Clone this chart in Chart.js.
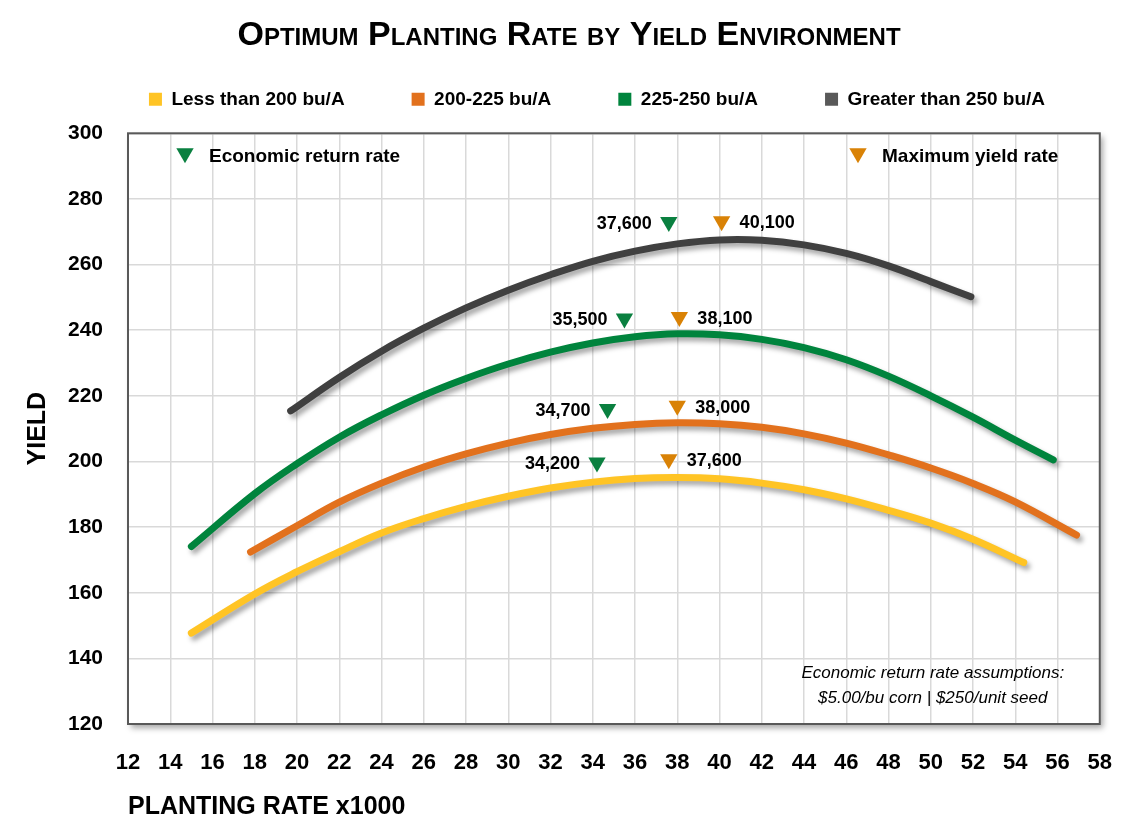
<!DOCTYPE html>
<html>
<head>
<meta charset="utf-8">
<title>Optimum Planting Rate by Yield Environment</title>
<script src="https://cdn.jsdelivr.net/npm/chart.js@4.4.1/dist/chart.umd.min.js"></script>
<style>
  html, body { margin: 0; padding: 0; background: #fff; }
</style>
</head>
<body>
<canvas id="chart" width="1138" height="838"></canvas>
<script>
const FONT = "'Liberation Sans', Arial, sans-serif";

/* ─── DATA ─── */
const seriesNames  = ['Less than 200 bu/A', '200-225 bu/A', '225-250 bu/A', 'Greater than 250 bu/A'];
const lineColors   = ['#ffc425', '#e2711d', '#00843d', '#404040'];
const legendColors = ['#ffc425', '#e2711d', '#00843d', '#595959'];

// planting rate (x1000) and yield (bu/A)
const rateLess200  = [15, 18, 20, 22, 24, 26, 28, 30, 32, 34, 36, 38, 40, 42, 44, 46, 48, 50, 52, 54.4];
const yieldLess200 = [147.7, 159.6, 166.4, 172.5, 178.2, 182.6, 186.3, 189.4, 191.9, 193.7, 194.8, 195.1, 194.7, 193.4, 191.4, 188.6, 185.1, 181.2, 176.3, 169.2];

const rate200to225  = [17.8, 20, 22, 24, 26, 28, 30, 32, 34, 36, 38, 40, 42, 44, 46, 48, 50, 52, 54, 56.9];
const yield200to225 = [172.4, 180.4, 187.6, 193.4, 198.3, 202.3, 205.6, 208.2, 210.1, 211.3, 211.8, 211.5, 210.4, 208.4, 205.6, 202, 198, 193.3, 187.7, 177.6];

const rate225to250  = [15, 18, 20, 22, 24, 26, 28, 30, 32, 34, 36, 38, 40, 42, 44, 46, 48, 50, 52, 54, 55.8];
const yield225to250 = [174.1, 190.2, 199.3, 207.4, 214.2, 220.2, 225.3, 229.7, 233.3, 236.1, 238, 238.9, 238.6, 237.2, 234.7, 231, 226, 220, 213.5, 206.5, 200.5];

const rateOver250  = [19.7, 22, 24, 26, 28, 30, 32, 34, 36, 38, 40, 42, 44, 46, 48, 50, 51.9];
const yieldOver250 = [215.4, 225.6, 233.6, 240.6, 246.8, 252.2, 256.9, 261, 264.1, 266.3, 267.5, 267.4, 266, 263.4, 259.6, 254.8, 250.2];

// economic return rate / maximum yield rate markers
const econRate   = [34.2, 34.7, 35.5, 37.6];
const econYield  = [199.7, 216, 243.6, 273];
const econLabels = ['34,200', '34,700', '35,500', '37,600'];
const maxRate    = [37.6, 38.0, 38.1, 40.1];
const maxYield   = [200.7, 217, 244, 273.2];
const maxLabels  = ['37,600', '38,000', '38,100', '40,100'];

const econColor = '#0a8040';
const maxColor  = '#d98206';

const xMin = 12, xMax = 58, xStep = 2;
const yMin = 120, yMax = 300, yStep = 20;

const curves = [
  [rateLess200, yieldLess200],
  [rate200to225, yield200to225],
  [rate225to250, yield225to250],
  [rateOver250, yieldOver250]
];

function toPoints(xs, ys) {
  return xs.map((x, i) => ({ x, y: ys[i] }));
}

/* ─── PLUGINS ─── */
function triangleDown(ctx, x, y, r) {
  const s = r * Math.sin(Math.PI / 3);
  ctx.beginPath();
  ctx.moveTo(x, y + r);
  ctx.lineTo(x - s, y - r / 2);
  ctx.lineTo(x + s, y - r / 2);
  ctx.closePath();
  ctx.fill();
}

// white plot area with a soft outer shadow, then a dark frame
const plotFrame = {
  id: 'plotFrame',
  beforeDraw(chart) {
    const { ctx, chartArea: a } = chart;
    ctx.save();
    ctx.shadowColor = 'rgba(0,0,0,0.35)';
    ctx.shadowBlur = 6;
    ctx.shadowOffsetX = 3;
    ctx.shadowOffsetY = 4;
    ctx.fillStyle = '#fff';
    ctx.fillRect(a.left, a.top, a.width, a.height);
    ctx.restore();
  },
  beforeDatasetsDraw(chart) {
    const { ctx, chartArea: a } = chart;
    ctx.save();
    ctx.strokeStyle = '#595959';
    ctx.lineWidth = 2;
    ctx.strokeRect(a.left, a.top, a.width, a.height);
    ctx.restore();
  }
};

// drop shadow under the yield curves
const lineShadow = {
  id: 'lineShadow',
  beforeDatasetDraw(chart, args) {
    if (args.index > 3) return;
    const ctx = chart.ctx;
    ctx.save();
    ctx.shadowColor = 'rgba(0,0,0,0.35)';
    ctx.shadowBlur = 5;
    ctx.shadowOffsetX = 3;
    ctx.shadowOffsetY = 4;
  },
  afterDatasetDraw(chart, args) {
    if (args.index > 3) return;
    chart.ctx.restore();
  }
};

// rate labels next to markers, marker key and the assumptions note
const annotations = {
  id: 'annotations',
  afterDatasetsDraw(chart) {
    const { ctx, chartArea: a } = chart;
    ctx.save();
    ctx.fillStyle = '#000';
    ctx.textBaseline = 'middle';
    ctx.font = 'bold 18px ' + FONT;

    chart.getDatasetMeta(4).data.forEach((pt, i) => {
      ctx.textAlign = 'right';
      ctx.fillText(econLabels[i], pt.x - 17, pt.y + 2);
    });
    chart.getDatasetMeta(5).data.forEach((pt, i) => {
      ctx.textAlign = 'left';
      ctx.fillText(maxLabels[i], pt.x + 18, pt.y + 2);
    });

    // marker key
    ctx.font = 'bold 19px ' + FONT;
    ctx.textAlign = 'left';
    ctx.fillStyle = econColor;
    triangleDown(ctx, a.left + 57, a.top + 20, 10);
    ctx.fillStyle = '#000';
    ctx.fillText('Economic return rate', a.left + 81, a.top + 23);
    ctx.fillStyle = maxColor;
    triangleDown(ctx, a.left + 730, a.top + 20, 10);
    ctx.fillStyle = '#000';
    ctx.fillText('Maximum yield rate', a.left + 754, a.top + 23);

    // assumptions
    ctx.font = 'italic 17px ' + FONT;
    ctx.textAlign = 'center';
    ctx.fillText('Economic return rate assumptions:', a.right - 167, a.bottom - 51);
    ctx.fillText('$5.00/bu corn | $250/unit seed', a.right - 167, a.bottom - 26);
    ctx.restore();
  }
};

/* ─── BUILD CHART ─── */
const lineSets = curves.map((c, i) => ({
  type: 'line',
  label: seriesNames[i],
  data: toPoints(c[0], c[1]),
  borderColor: lineColors[i],
  backgroundColor: legendColors[i],
  borderWidth: 7,
  borderCapStyle: 'round',
  borderJoinStyle: 'round',
  pointRadius: 0,
  tension: 0.4,
  fill: false,
  order: 2
}));

const markerSets = [
  { data: toPoints(econRate, econYield), color: econColor, label: 'Economic return rate' },
  { data: toPoints(maxRate, maxYield), color: maxColor, label: 'Maximum yield rate' }
].map(m => ({
  type: 'scatter',
  label: m.label,
  data: m.data,
  pointStyle: 'triangle',
  rotation: 180,
  pointRadius: 10,
  pointHoverRadius: 10,
  pointBackgroundColor: m.color,
  pointBorderWidth: 0,
  showLine: false,
  order: 1
}));

new Chart(document.getElementById('chart'), {
  type: 'line',
  data: { datasets: [...lineSets, ...markerSets] },
  plugins: [plotFrame, lineShadow, annotations],
  options: {
    responsive: false,
    animation: false,
    layout: { padding: { top: 0, left: 26, right: 26, bottom: 0 } },
    plugins: {
      title: {
        display: true,
        text: 'Optimum Planting Rate by Yield Environment',
        color: '#000',
        font: { family: FONT, size: 34, weight: 'small-caps bold' },
        padding: { top: 15, bottom: -33 }
      },
      // empty spacer between legend and plot area
      subtitle: {
        display: true,
        text: '',
        weight: 900,
        font: { size: 10, lineHeight: 1.45 },
        padding: 0
      },
      legend: {
        display: true,
        position: 'top',
        align: 'end',
        labels: {
          color: '#000',
          font: { family: FONT, size: 19, weight: 'bold' },
          boxWidth: 13,
          boxHeight: 13,
          padding: 67,
          generateLabels: () => seriesNames.map((name, i) => ({
            text: name,
            fillStyle: legendColors[i],
            strokeStyle: legendColors[i],
            lineWidth: 0,
            fontColor: '#000',
            hidden: false,
            datasetIndex: i
          }))
        }
      },
      tooltip: { enabled: false }
    },
    scales: {
      x: {
        type: 'linear',
        min: xMin,
        max: xMax,
        afterFit: s => { s.height = 114; },
        grid: { color: '#d9d9d9', lineWidth: 1.5, drawTicks: false },
        border: { display: false },
        ticks: {
          stepSize: xStep,
          color: '#000',
          padding: 26,
          maxRotation: 0,
          font: { family: FONT, size: 22, weight: 'bold' }
        },
        title: {
          display: true,
          text: 'PLANTING RATE x1000',
          align: 'start',
          color: '#000',
          font: { family: FONT, size: 25, weight: 'bold' },
          padding: { top: 0, bottom: 16 }
        }
      },
      y: {
        min: yMin,
        max: yMax,
        afterFit: s => { s.width = 102; },
        grid: { color: '#d9d9d9', lineWidth: 1.5, drawTicks: false },
        border: { display: false },
        ticks: {
          stepSize: yStep,
          color: '#000',
          padding: 25,
          font: { family: FONT, size: 21, weight: 'bold' }
        },
        title: {
          display: true,
          text: 'YIELD',
          color: '#000',
          font: { family: FONT, size: 25, weight: 'bold' },
          padding: { top: -3, bottom: 0 }
        }
      },
      // empty margin on the right of the plot area
      yRight: {
        type: 'linear',
        position: 'right',
        afterFit: s => { s.width = 12; },
        grid: { display: false },
        border: { display: false },
        ticks: { display: false }
      }
    }
  }
});
</script>
</body>
</html>
